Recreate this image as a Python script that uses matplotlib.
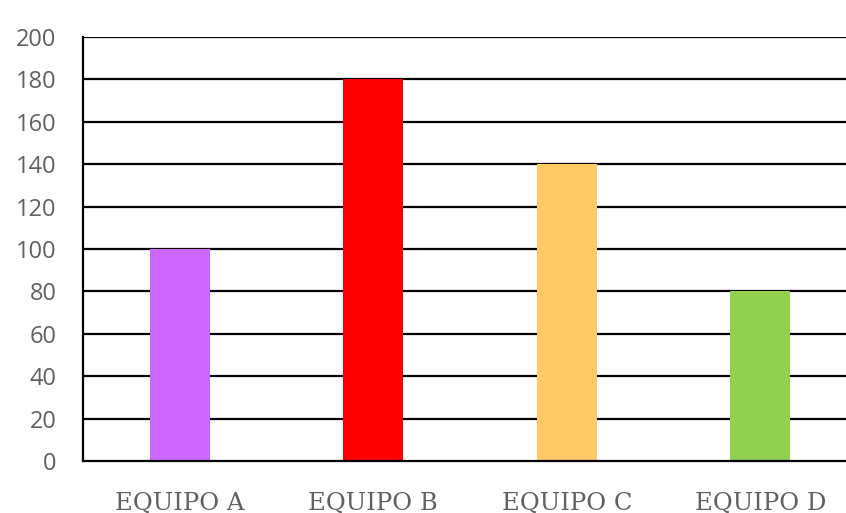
import matplotlib
matplotlib.use("Agg")
import matplotlib.pyplot as plt

categories = ["EQUIPO A", "EQUIPO B", "EQUIPO C", "EQUIPO D"]
values = [100, 180, 140, 80]
colors = ["#CC66FF", "#FF0000", "#FFC966", "#92D050"]
yticks = [0, 20, 40, 60, 80, 100, 120, 140, 160, 180, 200]

fig = plt.figure(figsize=(8.46, 5.13), dpi=100)
ax = fig.add_axes([83/846, 52/513, 774/846, 424/513])
x = list(range(len(categories)))
ax.bar(x, values, width=0.31, color=colors, zorder=3)
ax.set_xlim(-0.5, 3.5)
ax.set_ylim(0, 200)
ax.set_yticks(yticks)
ax.set_xticks(x)
ax.set_xticklabels(categories, family="DejaVu Serif", fontsize=17.5, color="#606060")
ax.set_yticklabels([str(v) for v in yticks], family="Open Sans", fontsize=17, color="#606060")
for v in yticks[1:]:
    ax.axhline(v, color="black", lw=1.6, zorder=2)
ax.tick_params(axis="both", length=0)
ax.tick_params(axis="x", pad=22)
ax.tick_params(axis="y", pad=19)
for s in ["top", "right"]:
    ax.spines[s].set_visible(False)
for s in ["left", "bottom"]:
    ax.spines[s].set_color("black")
    ax.spines[s].set_linewidth(1.6)
    ax.spines[s].set_zorder(4)
fig.savefig("out.png", dpi=100)
